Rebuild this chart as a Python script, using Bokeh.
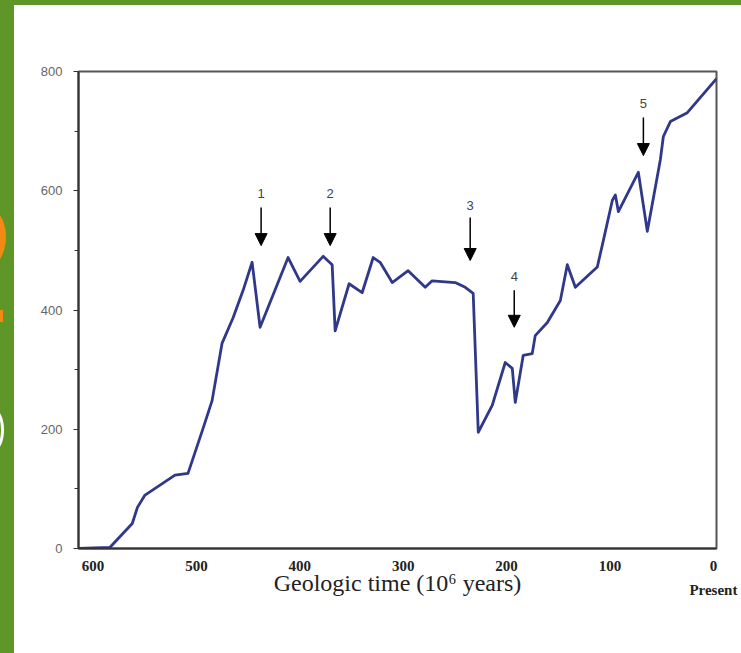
from bokeh.plotting import figure
from bokeh.models import Range1d, FixedTicker, ColumnDataSource, Arrow, NormalHead, Spacer, Div
from bokeh.layouts import row, column
from bokeh.core.properties import value
from bokeh.embed import file_html
from bokeh.resources import INLINE

# Geologic time (millions of years ago) and number of marine families
time_myr = [614, 583.5, 562, 557, 550, 520.7, 508.1, 493.6, 484.8, 475.2, 464.5, 454.8,
            446.1, 438.4, 411.3, 399.7, 377.4, 368.7, 365.8, 352.3, 339.7, 329, 322.3,
            310.6, 295.2, 278.7, 272, 249.7, 240, 232.3, 227.4, 213.9, 201.3, 194.5,
            191.6, 183.9, 175.2, 172.3, 160.6, 148, 141.3, 133.5, 112.3, 106.5, 97.7,
            94.8, 91.9, 72.6, 63.9, 51.3, 48.4, 41.6, 25.2, -3]
families = [0, 2, 42, 69, 89, 123, 126, 201, 248, 344, 387, 433,
            480, 371, 488, 448, 490, 476, 365, 444, 429, 488, 480,
            446, 466, 438, 449, 446, 438, 428, 195, 240, 312, 302,
            245, 324, 327, 357, 379, 416, 476, 438, 472, 516, 584,
            593, 565, 631, 532, 652, 691, 716, 731, 788]

# Mass extinction events
event_labels = ["1", "2", "3", "4", "5"]
event_time = [437.4, 370.6, 235.2, 192.6, 67.7]
label_y = [595, 595, 575, 456, 746]
arrow_top = [572, 572, 555, 433, 723]
arrow_tip = [508, 508, 483, 371, 659]

x_ticks = [600, 500, 400, 300, 200, 100, 0]
x_tick_labels = ["600", "500", "400", "300", "200", "100", "0\nPresent"]
y_ticks = [0, 200, 400, 600, 800]

GREEN = "#5f9628"
ORANGE = "#f08a12"
LINE = "#30388a"

p = figure(width=727, height=648, output_backend="svg", toolbar_location=None,
           x_range=Range1d(614, -3), y_range=Range1d(0, 800),
           min_border_left=64, min_border_right=25, min_border_top=66, min_border_bottom=105,
           background_fill_color="white", border_fill_color="white")
p.grid.visible = False
p.outline_line_color = "#555555"
p.outline_line_width = 2

p.line(time_myr, families, line_color=LINE, line_width=2.8, line_join="round")

# arrows
for i in range(len(event_labels)):
    p.add_layout(Arrow(end=NormalHead(size=12, fill_color="black", line_color="black"),
                       x_start=event_time[i], y_start=arrow_top[i],
                       x_end=event_time[i], y_end=arrow_tip[i],
                       line_color="black", line_width=1.5))
src = ColumnDataSource(dict(x=event_time, y=label_y, t=event_labels))
p.text(x="x", y="y", text="t", source=src, text_align="center", text_baseline="middle",
       text_font=value("Liberation Sans"), text_font_size="13px", text_color="#444444")

# axes
xa = p.xaxis[0]
xa.ticker = FixedTicker(ticks=x_ticks)
xa.major_label_overrides = {t: l for t, l in zip(x_ticks, x_tick_labels)}
xa.major_tick_out = 0
xa.major_tick_in = 0
xa.minor_tick_out = 0
xa.minor_tick_in = 0
xa.major_label_standoff = 9
xa.major_label_text_font = "Liberation Serif"
xa.major_label_text_font_style = "bold"
xa.major_label_text_font_size = "15px"
xa.major_label_text_line_height = 1.5
xa.major_label_text_color = "#222222"
xa.axis_line_color = "#333333"
xa.axis_line_width = 2
xa.axis_label = "Geologic time (10\u2076 years)"
xa.axis_label_text_font = "Liberation Serif"
xa.axis_label_text_font_style = "normal"
xa.axis_label_text_font_size = "24px"
xa.axis_label_text_color = "#222222"
xa.axis_label_standoff = -31

ya = p.yaxis[0]
ya.ticker = FixedTicker(ticks=y_ticks, minor_ticks=[100, 300, 500, 700])
ya.major_tick_out = 5
ya.major_tick_in = 0
ya.minor_tick_out = 4
ya.minor_tick_in = 0
ya.major_tick_line_color = "#333333"
ya.minor_tick_line_color = "#333333"
ya.major_label_standoff = 11
ya.major_label_text_font = "Liberation Sans"
ya.major_label_text_font_size = "13px"
ya.major_label_text_color = "#666666"
ya.axis_line_color = "#333333"
ya.axis_line_width = 2

strip_html = (
    '<div style="position:relative;width:14px;height:648px;background:%s;overflow:hidden;">'
    '<div style="position:absolute;left:-38px;top:200px;width:44px;height:64px;border-radius:50%%;background:%s;"></div>'
    '<div style="position:absolute;left:0px;top:305px;width:3px;height:12px;background:%s;"></div>'
    '<div style="position:absolute;left:-14px;top:405px;width:18px;height:40px;border-radius:50%%;border:3px solid #ffffff;"></div>'
    '</div>' % (GREEN, ORANGE, ORANGE)
)
strip = Div(text=strip_html, width=14, height=648, margin=0)
top = Spacer(width=741, height=5, styles={"background-color": GREEN}, margin=0)
layout = column(top, row(strip, p, margin=0), margin=0)

open("out.html", "w").write(file_html(layout, INLINE))
